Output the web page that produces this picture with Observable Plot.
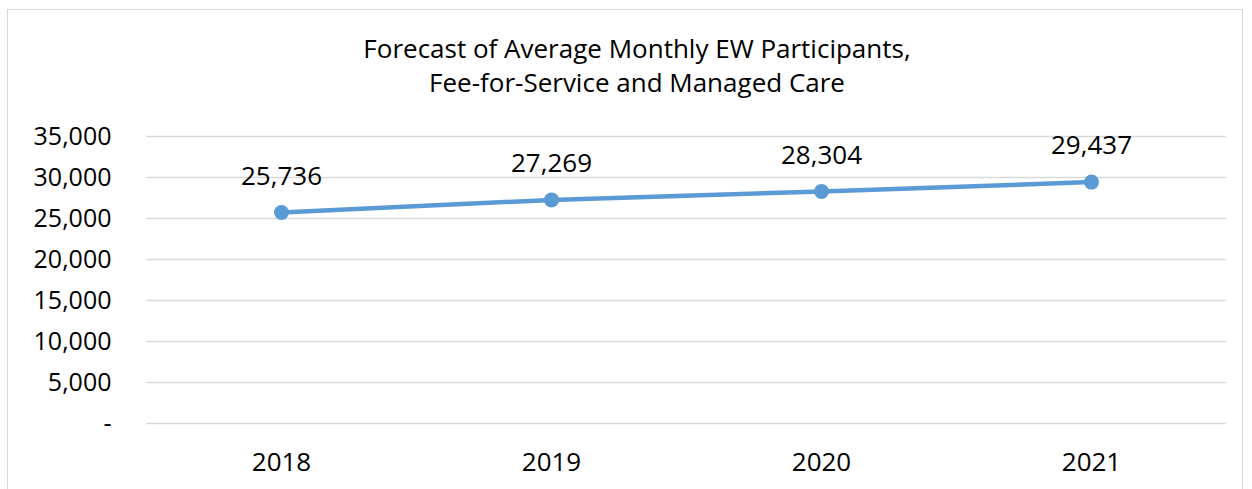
<!DOCTYPE html>
<html>
<head>
<meta charset="utf-8">
<script src="https://cdn.jsdelivr.net/npm/d3@7"></script>
<script src="https://cdn.jsdelivr.net/npm/@observablehq/plot@0.6"></script>
<style>
  html, body { margin: 0; padding: 0; background: #fff; }
  body { width: 1252px; height: 489px; position: relative; overflow: hidden; font-family: "Open Sans", sans-serif; }
  #frame { position: absolute; left: 7px; top: 9px; width: 1236px; height: 500px; border: 1.5px solid #d9d9d9; box-sizing: border-box; }
  #title { position: absolute; left: 0; width: 1274px; top: 31px; text-align: center; font-size: 26px; line-height: 34px; color: #000; }
  #chart { position: absolute; left: 0; top: 0; }
</style>
</head>
<body>
<div id="frame"></div>
<div id="chart"></div>
<div id="title">Forecast of Average Monthly EW Participants,<br>Fee-for-Service and Managed Care</div>
<script>
const years = ["2018", "2019", "2020", "2021"];
const participants = [25736, 27269, 28304, 29437];
const yTicks = [0, 5000, 10000, 15000, 20000, 25000, 30000, 35000];

const data = years.map((y, i) => ({year: y, value: participants[i]}));
const fmt = d3.format(",");

const chart = Plot.plot({
  width: 1252,
  height: 489,
  marginTop: 136,
  marginBottom: 66,
  marginLeft: 146,
  marginRight: 26,
  style: {fontFamily: "Open Sans, sans-serif", fontSize: "25px", color: "#000", background: "transparent"},
  x: {type: "point", domain: years, padding: 0.5},
  y: {domain: [0, 35000]},
  marks: [
    Plot.gridY(yTicks, {stroke: "#d9d9d9", strokeOpacity: 1, strokeWidth: 1.5}),
    Plot.axisY(yTicks, {tickSize: 0, tickPadding: 35, tickFormat: d => d === 0 ? "-" : fmt(d), fontSize: 25, fill: "#000", label: null}),
    Plot.axisX({tickSize: 0, tickPadding: 29, fontSize: 26, fill: "#000", label: null}),
    Plot.line(data, {x: "year", y: "value", stroke: "#5b9bd5", strokeWidth: 4.5}),
    Plot.dot(data, {x: "year", y: "value", r: 7.5, fill: "#5b9bd5", stroke: "none"}),
    Plot.text(data, {x: "year", y: "value", text: d => fmt(d.value), dy: -36, fontSize: 26, fill: "#000"})
  ]
});
document.getElementById("chart").appendChild(chart);
</script>
</body>
</html>
